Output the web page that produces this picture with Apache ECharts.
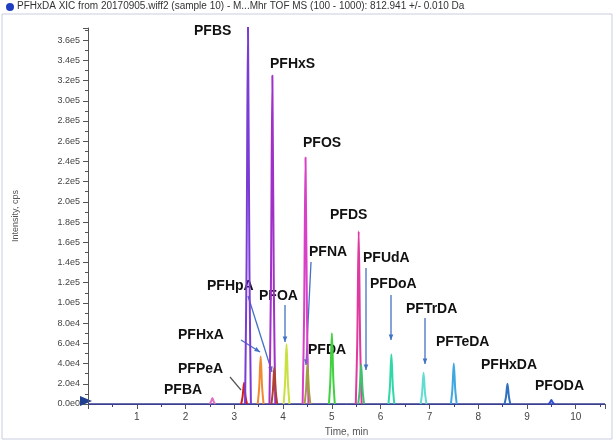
<!DOCTYPE html>
<html><head><meta charset="utf-8">
<script src="https://cdn.jsdelivr.net/npm/echarts@6/dist/echarts.min.js"></script>
<style>html,body{margin:0;background:#fff}#c{width:615px;height:442px}</style>
</head><body><div id="c"></div>
<script>
// peaks: name, retention time (min), apex intensity (cps)
const names = ['PFBA','PFPeA','PFBS','PFHxA','PFHxS','PFHpA','PFOA','PFOS','PFNA','PFDA','PFDS','PFUdA','PFDoA','PFTrDA','PFTeDA','PFHxDA','PFODA']
const times = [2.55,3.20,3.28,3.54,3.78,3.82,4.07,4.46,4.50,5.00,5.55,5.60,6.22,6.88,7.50,8.60,9.50]
const heights = [6000,21000,375000,47000,325000,36000,59000,244000,39000,70000,171000,39000,49000,31000,40000,20000,4000]
const colors = ['#e070c0','#d02020','#7a3cd6','#f08a30','#a030c8','#b04030','#c8e040','#d840c8','#a0a040','#40d040','#e03aa0','#40c070','#30d8a8','#60dcd0','#40a8e0','#3070c0','#3050d0']

const widths = 0.06
let series = names.map((n, i) => ({
    name: n,
    type: 'line',
    symbol: 'none',
    smooth: 0.3,
    lineStyle: { color: colors[i], width: 2 },
    data: [[times[i] - widths, 0], [times[i] - widths / 2, heights[i] * 0.35], [times[i], heights[i]], [times[i] + widths / 2, heights[i] * 0.35], [times[i] + widths, 0]]
}))
// baseline
series.push({ type: 'line', symbol: 'none', lineStyle: { color: '#3a3f8f', width: 1.5 }, data: [[0, 0], [10.6, 0]], z: 1 })

const lbl = (x, y, t) => ({ type: 'text', left: x, top: y, style: { text: t, font: 'bold 14px Arial, "Liberation Sans"', fill: '#111' } })
const arrow = (x1, y1, x2, y2) => {
    const a = Math.atan2(y2 - y1, x2 - x1), s = 6
    return [
        { type: 'line', shape: { x1, y1, x2, y2 }, style: { stroke: '#4472c4', lineWidth: 1.3 } },
        { type: 'polygon', shape: { points: [[x2, y2], [x2 - s * Math.cos(a - 0.4), y2 - s * Math.sin(a - 0.4)], [x2 - s * Math.cos(a + 0.4), y2 - s * Math.sin(a + 0.4)]] }, style: { fill: '#4472c4' } }
    ]
}

let myChart = echarts.init(document.getElementById('c'))
myChart.setOption({
    animation: false,
    grid: { left: 88, right: 10, top: 28, bottom: 38 },
    xAxis: {
        type: 'value', min: 0, max: 10.6, interval: 1,
        name: 'Time, min', nameLocation: 'middle', nameGap: 22,
        nameTextStyle: { fontSize: 10, color: '#555' },
        axisLine: { lineStyle: { color: '#3a3f8f' } },
        axisTick: { lineStyle: { color: '#555' } },
        minorTick: { show: true, splitNumber: 2 },
        axisLabel: { fontSize: 10, color: '#444', formatter: v => (v === 0 || v > 10) ? '' : v },
        splitLine: { show: false }
    },
    yAxis: {
        type: 'value', min: 0, max: 372000, interval: 20000,
        name: 'Intensity, cps', nameLocation: 'middle', nameGap: 68,
        nameTextStyle: { fontSize: 9, color: '#555' },
        axisLine: { show: true, lineStyle: { color: '#555' } },
        axisTick: { show: true },
        minorTick: { show: true, splitNumber: 2 },
        axisLabel: { fontSize: 9, color: '#444', showMaxLabel: false, formatter: v => v === 0 ? '0.0e0' : (v / Math.pow(10, Math.floor(Math.log10(v)))).toFixed(1) + 'e' + Math.floor(Math.log10(v)) },
        splitLine: { show: false }
    },
    graphic: [
        { type: 'rect', shape: { x: 2, y: 14, width: 610, height: 425 }, style: { fill: 'none', stroke: '#c8cde0' } },
        { type: 'circle', shape: { cx: 10, cy: 7, r: 4 }, style: { fill: '#1f3fc0' } },
        { type: 'text', left: 17, top: 1, style: { text: 'PFHxDA XIC from 20170905.wiff2 (sample 10) - M...Mhr TOF MS (100 - 1000): 812.941 +/- 0.010 Da', font: '10px Arial, "Liberation Sans"', fill: '#333' } },
        { type: 'polygon', shape: { points: [[80, 396], [92, 401], [80, 406]] }, style: { fill: '#1f3f90' } },
        lbl(194, 24, 'PFBS'), lbl(270, 57, 'PFHxS'), lbl(303, 136, 'PFOS'), lbl(330, 208, 'PFDS'),
        lbl(309, 245, 'PFNA'), lbl(363, 251, 'PFUdA'), lbl(370, 277, 'PFDoA'), lbl(406, 302, 'PFTrDA'),
        lbl(259, 289, 'PFOA'), lbl(207, 279, 'PFHpA'), lbl(178, 328, 'PFHxA'), lbl(308, 343, 'PFDA'),
        lbl(436, 335, 'PFTeDA'), lbl(481, 358, 'PFHxDA'), lbl(535, 379, 'PFODA'), lbl(178, 362, 'PFPeA'),
        lbl(164, 383, 'PFBA'),
        ...arrow(241, 340, 260, 352), ...arrow(248, 296, 272, 372), ...arrow(285, 305, 285, 342),
        ...arrow(311, 262, 306, 365), ...arrow(366, 268, 366, 370), ...arrow(391, 295, 391, 340),
        ...arrow(425, 318, 425, 364),
        { type: 'line', shape: { x1: 230, y1: 377, x2: 241, y2: 390 }, style: { stroke: '#555', lineWidth: 1.2 } }
    ],
    series: series
})
</script></body></html>
